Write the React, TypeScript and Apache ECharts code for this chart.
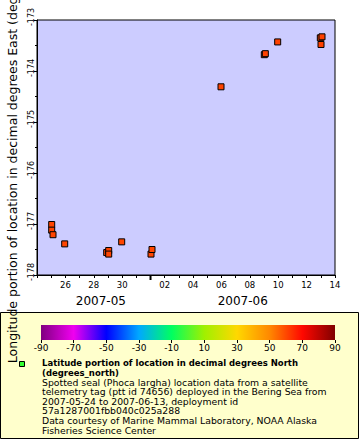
import React, { useEffect, useRef } from 'react';
import * as echarts from 'echarts';

const DAY = 86400000;

// observation times (UTC)
const times: string[] = [
  '2007-05-25T00:52:00Z', '2007-05-25T00:52:00Z', '2007-05-25T03:04:00Z', '2007-05-25T22:51:00Z',
  '2007-05-28T21:53:00Z', '2007-05-29T01:16:00Z', '2007-05-29T01:16:00Z', '2007-05-29T23:15:00Z',
  '2007-06-01T00:49:00Z', '2007-06-01T02:30:00Z', '2007-06-05T23:12:00Z', '2007-06-09T00:26:00Z',
  '2007-06-09T02:10:00Z', '2007-06-09T23:03:00Z', '2007-06-12T23:10:00Z', '2007-06-13T02:02:00Z',
  '2007-06-13T00:20:00Z',
];
// longitude (degrees_east)
const longitudes: number[] = [
  -177.01, -177.12, -177.21, -177.39,
  -177.56, -177.52, -177.59, -177.35,
  -177.59, -177.50, -174.31, -173.68,
  -173.66, -173.43, -173.35, -173.33,
  -173.48,
];
// latitude (degrees_north), used for colour
const latitudes: number[] = [
  60.6, 60.6, 60.6, 60.5,
  60.4, 60.4, 60.4, 60.4,
  60.3, 60.3, 60.8, 61.0,
  61.0, 61.1, 61.2, 61.2,
  61.2,
];

const xMin = Date.UTC(2007, 4, 24);
const xMax = Date.UTC(2007, 5, 14);
const yMin = -178;
const yMax = -173;

const colorbarMin = -90;
const colorbarMax = 90;
const colorbarInterval = 20;
const paletteColors = [
  '#800080', '#f000f0', '#0000ff', '#00a8ff', '#00ff60',
  '#a0f000', '#ffd800', '#ff8800', '#ff0800', '#800000',
];

const monthLabels = ['2007-05', '2007-06'];
const monthLabelAt = ['2007-05-28T12:00:00Z', '2007-06-07T12:00:00Z'];
const monthBoundaries = ['2007-06-01T00:00:00Z'];

const yTitle = 'Longitude portion of location in decimal degrees East (degrees_east)';
const legendTitle = ['Latitude portion of location in decimal degrees North', '(degrees_north)'];
const legendLines = [
  'Spotted seal (Phoca largha) location data from a satellite',
  'telemetry tag (ptt id 74656) deployed in the Bering Sea from',
  '2007-05-24 to 2007-06-13, deployment id',
  '57a1287001fbb040c025a288',
  'Data courtesy of Marine Mammal Laboratory, NOAA Alaska',
  'Fisheries Science Center',
];

const FONT = 'DejaVu Sans';

export default function App() {
  const ref = useRef<HTMLDivElement>(null);
  useEffect(() => {
    if (!ref.current) return;
    const chart = echarts.init(ref.current, undefined, { renderer: 'svg' });
    const data = times.map((t, i) => [Date.parse(t), longitudes[i], latitudes[i]]);
    chart.setOption({
      animation: false,
      backgroundColor: '#ffffff',
      textStyle: { fontFamily: FONT },
      grid: [
        {
          left: 37, top: 20, right: 25, bottom: 165, outerBoundsMode: 'none', containLabel: false,
          show: true, backgroundColor: '#ccccff', borderColor: '#000', borderWidth: 1,
        },
        { left: 41, top: 325, width: 294, height: 15, show: false, outerBoundsMode: 'none', containLabel: false },
      ],
      visualMap: {
        show: false, type: 'continuous', min: colorbarMin, max: colorbarMax,
        dimension: 2, seriesIndex: 0, inRange: { color: paletteColors },
      },
      xAxis: [
        {
          gridIndex: 0, type: 'value', min: xMin, max: xMax, interval: DAY,
          axisLine: { show: true, lineStyle: { color: '#000' } },
          axisTick: { show: true, length: 3, lineStyle: { color: '#000' } },
          splitLine: { show: false },
          axisLabel: {
            color: '#000', fontSize: 8.5, margin: 5, fontFamily: FONT,
            formatter: (v: number) => {
              if (v === xMin) return '';
              const d = new Date(v).getUTCDate();
              return d % 2 === 0 ? String(d).padStart(2, '0') : '';
            },
          },
        },
        {
          gridIndex: 1, type: 'value', min: colorbarMin, max: colorbarMax, interval: colorbarInterval,
          axisLine: { show: false },
          axisTick: { show: true, length: 3, lineStyle: { color: '#000' } },
          splitLine: { show: false },
          axisLabel: { color: '#000', fontSize: 9, margin: 3, fontFamily: FONT },
        },
      ],
      yAxis: [
        {
          gridIndex: 0, type: 'value', min: yMin, max: yMax, interval: 1,
          name: yTitle, nameLocation: 'middle', nameGap: 17, nameRotate: 90,
          nameTextStyle: { fontSize: 12.5, color: '#000', fontFamily: FONT },
          axisLine: { show: true, lineStyle: { color: '#000' } },
          axisTick: { show: true, length: 3, lineStyle: { color: '#000' } },
          minorTick: { show: true, splitNumber: 2, length: 2, lineStyle: { color: '#000' } },
          splitLine: { show: false },
          axisLabel: { color: '#000', fontSize: 8, rotate: 90, margin: 2, fontFamily: FONT, padding: [0, 0, 0, 6] },
        },
        { gridIndex: 1, type: 'value', min: 0, max: 1, show: false },
      ],
      series: [
        {
          type: 'scatter', xAxisIndex: 0, yAxisIndex: 0, data,
          symbol: 'rect', symbolSize: 6,
          itemStyle: { borderColor: '#000', borderWidth: 1, opacity: 1 },
        },
      ],
    });

    const gradient = new echarts.graphic.LinearGradient(
      0, 0, 1, 0,
      paletteColors.map((c, i) => ({ offset: i / (paletteColors.length - 1), color: c })),
    );
    const elements: any[] = [
      { type: 'rect', z: -10, shape: { x: 0.5, y: 312.5, width: 358, height: 126 },
        style: { fill: '#ffffcc', stroke: '#000', lineWidth: 1 } },
      { type: 'rect', z: -5, shape: { x: 41, y: 325, width: 294, height: 15 }, style: { fill: gradient } },
      { type: 'rect', z: 5, shape: { x: 19.5, y: 361.5, width: 5, height: 5 },
        style: { fill: '#33ff33', stroke: '#000', lineWidth: 1 } },
    ];
    legendTitle.forEach((s, i) => {
      elements.push({ type: 'text', z: 5, x: 42, y: 363 + i * 9.5,
        style: { text: s, fill: '#000', font: `bold 8.5px "${FONT}"`, verticalAlign: 'middle' } });
    });
    legendLines.forEach((s, i) => {
      elements.push({ type: 'text', z: 5, x: 42, y: 382 + i * 9.6,
        style: { text: s, fill: '#000', font: `9.3px "${FONT}"`, verticalAlign: 'middle' } });
    });
    monthLabels.forEach((s, i) => {
      const p = chart.convertToPixel({ xAxisIndex: 0, yAxisIndex: 0 }, [Date.parse(monthLabelAt[i]), yMin]);
      elements.push({ type: 'text', z: 5, x: p[0], y: p[1] + 26,
        style: { text: s, fill: '#000', font: `12px "${FONT}"`, align: 'center', verticalAlign: 'middle' } });
    });
    monthBoundaries.forEach((t) => {
      const p = chart.convertToPixel({ xAxisIndex: 0, yAxisIndex: 0 }, [Date.parse(t), yMin]);
      elements.push({ type: 'rect', z: 5, shape: { x: p[0] - 1, y: p[1], width: 2, height: 5 }, style: { fill: '#000' } });
    });
    chart.setOption({ graphic: { elements } });
    return () => chart.dispose();
  }, []);
  return <div ref={ref} style={{ position: 'fixed', left: 0, top: 0, width: 360, height: 440 }} />;
}
